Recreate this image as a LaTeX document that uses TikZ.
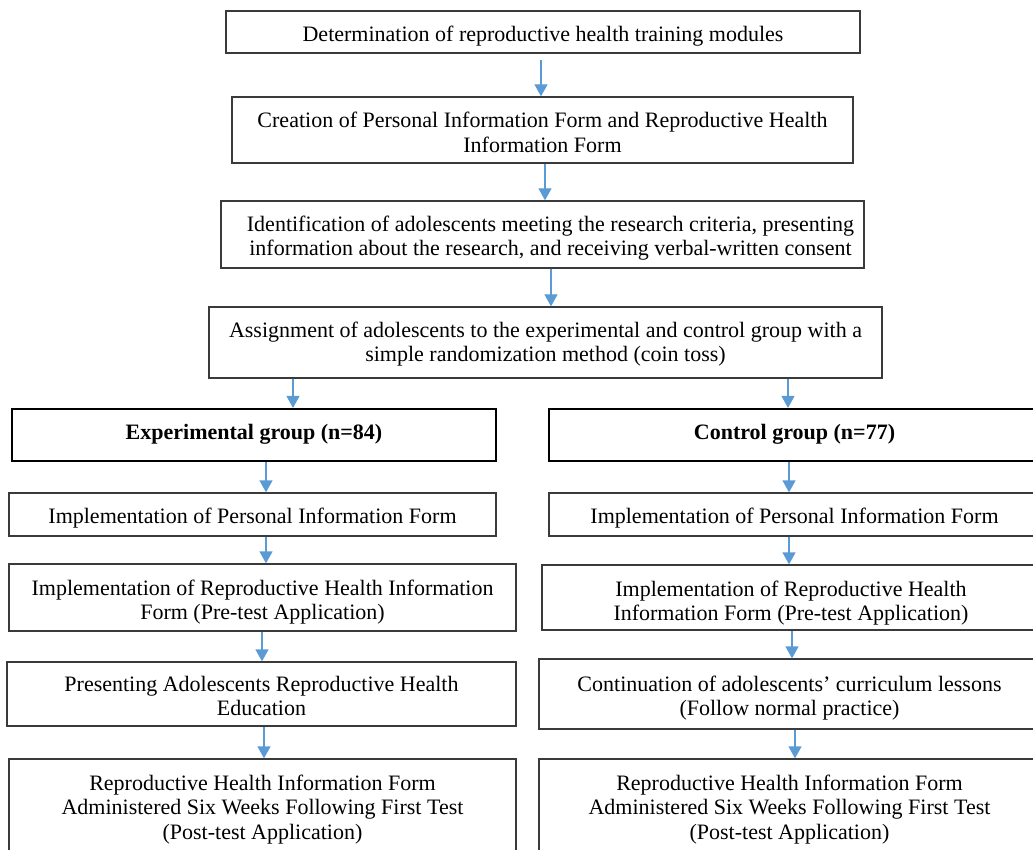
\documentclass[tikz,border=0pt]{standalone}
\usepackage{fontspec}
\setmainfont{Liberation Serif}
\usetikzlibrary{arrows.meta}
\definecolor{arrblue}{HTML}{5B9BD5}
\definecolor{boxline}{HTML}{3A3A3A}
\newcommand\tstr[1]{\rule{0pt}{#1pt}}
\newcommand\bstr[1]{\rule[-#1pt]{0pt}{#1pt}}
\tikzset{
  box/.style={draw=boxline, line width=1.3pt, align=center, inner sep=0pt,
    font=\fontsize{22}{24.5}\selectfont},
  grpbox/.style={box, draw=black, line width=2.2pt, font=\fontsize{22}{24.5}\selectfont\bfseries},
  arr/.style={draw=arrblue, line width=1.3pt, -{Triangle[width=13pt,length=12pt]}}
}
\begin{document}
\begin{tikzpicture}[x=1pt,y=-1pt]
\useasboundingbox (0,0) rectangle (1033,850);
\clip (0,0) rectangle (1033,850);
% top column
\node[box, minimum width=634, minimum height=42] (b1) at (543,32) {\tstr{31}Determination of reproductive health training modules\bstr{11}};
\node[box, minimum width=621, minimum height=66] (b2) at (542.5,130) {\tstr{31}Creation of Personal Information Form and Reproductive Health\\Information Form\bstr{10.5}};
\node[box, minimum width=643, minimum height=67] (b3) at (542.5,234.5) {\tstr{30}\hspace*{16pt}Identification of adolescents meeting the research criteria, presenting\\\hspace*{16pt}information about the research, and receiving verbal-written consent\bstr{12.5}};
\node[box, minimum width=673, minimum height=71] (b4) at (545.5,342.5) {\tstr{30}Assignment of adolescents to the experimental and control group with a\\simple randomization method (coin toss)\bstr{16.5}};
% experimental column
\node[grpbox, minimum width=484, minimum height=52] (eL) at (254,435) {\tstr{30}Experimental group (n=84)\bstr{22}};
\node[box, minimum width=487, minimum height=43] (pL) at (252.5,514.5) {\tstr{30}Implementation of Personal Information Form\bstr{13}};
\node[box, minimum width=507, minimum height=67] (rL) at (262.5,597.5) {\tstr{31}Implementation of Reproductive Health Information\\Form (Pre-test Application)\bstr{11.5}};
\node[box, minimum width=509, minimum height=64] (mL) at (261.5,694) {\tstr{29}Presenting Adolescents Reproductive Health\\Education\bstr{10.5}};
\node[box, minimum width=507, minimum height=97] (fL) at (262.5,807.5) {\tstr{31}Reproductive Health Information Form\\Administered Six Weeks Following First Test\\(Post-test Application)\bstr{17}};
% control column
\node[grpbox, minimum width=491, minimum height=52] (eR) at (794.5,435) {\tstr{30}Control group (n=77)\bstr{22}};
\node[box, minimum width=491, minimum height=43] (pR) at (794.5,514.5) {\tstr{30}Implementation of Personal Information Form\bstr{13}};
\node[box, minimum width=498, minimum height=65] (rR) at (791,597.5) {\tstr{31}Implementation of Reproductive Health\\Information Form (Pre-test Application)\bstr{9.5}};
\node[box, minimum width=501, minimum height=70] (mR) at (789.5,694) {\tstr{32}Continuation of adolescents’ curriculum lessons\\(Follow normal practice)\bstr{13.5}};
\node[box, minimum width=501, minimum height=97] (fR) at (789.5,807.5) {\tstr{31}Reproductive Health Information Form\\Administered Six Weeks Following First Test\\(Post-test Application)\bstr{17}};
% arrow anchor columns
\path (541,0) coordinate (x1) (545,0) coordinate (x2) (551,0) coordinate (x3)
      (293,0) coordinate (x4L) (788,0) coordinate (x4R)
      (266,0) coordinate (x5L) (789,0) coordinate (x5R)
      (266,0) coordinate (x6L) (789,0) coordinate (x6R)
      (262,0) coordinate (x7L) (792,0) coordinate (x7R)
      (264,0) coordinate (x8L) (795,0) coordinate (x8R);
\draw[arr, shorten <=6pt] (b1.south -| x1) -- (b2.north -| x1);
\draw[arr] (b2.south -| x2) -- (b3.north -| x2);
\draw[arr] (b3.south -| x3) -- (b4.north -| x3);
\draw[arr] (b4.south -| x4L) -- (eL.north -| x4L);
\draw[arr] (b4.south -| x4R) -- (eR.north -| x4R);
\draw[arr] (eL.south -| x5L) -- (pL.north -| x5L);
\draw[arr] (eR.south -| x5R) -- (pR.north -| x5R);
\draw[arr] (pL.south -| x6L) -- (rL.north -| x6L);
\draw[arr] (pR.south -| x6R) -- (rR.north -| x6R);
\draw[arr] (rL.south -| x7L) -- (mL.north -| x7L);
\draw[arr] (rR.south -| x7R) -- (mR.north -| x7R);
\draw[arr] (mL.south -| x8L) -- (fL.north -| x8L);
\draw[arr] (mR.south -| x8R) -- (fR.north -| x8R);
\end{tikzpicture}
\end{document}
